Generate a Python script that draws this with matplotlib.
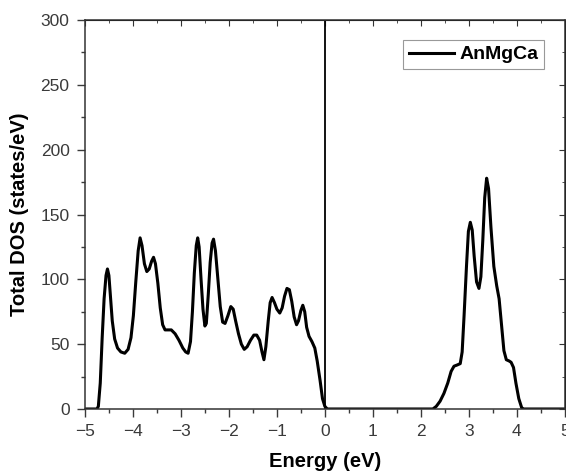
import matplotlib.pyplot as plt
from matplotlib.ticker import MultipleLocator

plt.rcParams["font.family"] = ["Liberation Sans", "DejaVu Sans"]

# ----------------------------
# Data
# ----------------------------
energy = [
    -5.00, -4.75, -4.72, -4.68, -4.64, -4.60, -4.56, -4.53, -4.50, -4.47,
    -4.43, -4.38, -4.32, -4.25, -4.17, -4.10, -4.04, -3.99, -3.94, -3.89,
    -3.85, -3.81, -3.76, -3.71, -3.66, -3.61, -3.57, -3.53, -3.48, -3.43,
    -3.38, -3.33, -3.27, -3.20, -3.12, -3.04, -2.96, -2.90, -2.85, -2.80,
    -2.76, -2.72, -2.68, -2.65, -2.62, -2.58, -2.54, -2.50, -2.47, -2.43,
    -2.39, -2.35, -2.32, -2.28, -2.23, -2.18, -2.13, -2.08, -2.02, -1.96,
    -1.91, -1.86, -1.80, -1.74, -1.68, -1.62, -1.55, -1.48, -1.42, -1.36,
    -1.31, -1.27, -1.23, -1.18, -1.14, -1.10, -1.05, -1.00, -0.94, -0.89,
    -0.84, -0.79, -0.74, -0.69, -0.64, -0.59, -0.55, -0.50, -0.46, -0.42,
    -0.38, -0.33, -0.27, -0.21, -0.16, -0.10, -0.05, 0.00, 0.05, 1.00,
    2.25, 2.32, 2.40, 2.48, 2.56, 2.63, 2.69, 2.76, 2.82, 2.86,
    2.90, 2.95, 2.99, 3.03, 3.07, 3.11, 3.16, 3.21, 3.25, 3.29,
    3.33, 3.37, 3.41, 3.46, 3.52, 3.58, 3.63, 3.68, 3.73, 3.78,
    3.84, 3.88, 3.93, 3.98, 4.04, 4.10, 4.14, 5.00,
]
dos = [
    0, 0, 2, 20, 55, 85, 103, 108, 103, 88,
    68, 54, 47, 44, 43, 46, 55, 72, 98, 122,
    132, 126, 112, 106, 108, 114, 117, 112, 97, 78,
    65, 61, 61, 61, 58, 53, 47, 44, 43, 52,
    75, 105, 126, 132, 125, 100, 77, 64, 66, 88,
    113, 128, 131, 122, 100, 79, 67, 66, 72, 79,
    77, 68, 58, 50, 46, 48, 53, 57, 57, 53,
    44, 38, 48, 68, 82, 86, 82, 77, 74, 78,
    87, 93, 92, 83, 71, 65, 68, 76, 80, 75,
    63, 56, 52, 47, 37, 22, 8, 2, 0, 0,
    0, 2, 6, 12, 20, 29, 33, 34, 35, 44,
    72, 110, 137, 144, 138, 118, 98, 93, 102, 130,
    163, 178, 170, 140, 110, 95, 85, 65, 45, 38,
    37, 36, 32, 20, 8, 1, 0, 0,
]
series_label = "AnMgCa"

# ----------------------------
# Plot
# ----------------------------
fig = plt.figure(figsize=(5.66, 4.72), dpi=100)
ax = fig.add_axes([0.150, 0.1335, 0.848, 0.824])

ax.plot(energy, dos, color="black", linewidth=2.2, label=series_label,
        solid_joinstyle="round")
ax.axvline(0, color="black", linewidth=1.3)

ax.set_xlim(-5, 5)
ax.set_ylim(0, 300)
ax.xaxis.set_major_locator(MultipleLocator(1))
ax.xaxis.set_minor_locator(MultipleLocator(0.5))
ax.yaxis.set_major_locator(MultipleLocator(50))
ax.yaxis.set_minor_locator(MultipleLocator(25))

ax.tick_params(which="both", direction="out", colors="#3a3a3a", labelsize=12.5,
               top=False, right=False)
ax.tick_params(which="major", length=6, width=1, pad=5)
ax.tick_params(which="minor", length=3, width=1)
for s in ax.spines.values():
    s.set_color("#333333")
    s.set_linewidth(1.1)

# inward ticks on top and right like Origin
ax2 = ax.secondary_xaxis("top")
ax2.xaxis.set_major_locator(MultipleLocator(1))
ax2.xaxis.set_minor_locator(MultipleLocator(0.5))
ax2.tick_params(which="both", direction="in", labeltop=False, colors="#333333")
ax2.tick_params(which="major", length=4)
ax2.tick_params(which="minor", length=2)
ax3 = ax.secondary_yaxis("right")
ax3.yaxis.set_major_locator(MultipleLocator(50))
ax3.yaxis.set_minor_locator(MultipleLocator(25))
ax3.tick_params(which="both", direction="in", labelright=False, colors="#333333")
ax3.tick_params(which="major", length=4)
ax3.tick_params(which="minor", length=2)

ax.set_xlabel("Energy (eV)", fontsize=14.5, fontweight="bold", labelpad=9)
ax.set_ylabel("Total DOS (states/eV)", fontsize=14.5, fontweight="bold", labelpad=8)

leg = ax.legend(loc="upper right", bbox_to_anchor=(0.957, 0.949), fancybox=False,
                handlelength=2.3, handletextpad=0.3,
                prop={"weight": "bold", "size": 14}, borderpad=0.3,
                borderaxespad=0, framealpha=1)
leg.get_frame().set_edgecolor("#999999")
leg.get_frame().set_linewidth(0.8)

plt.savefig("out.png", dpi=100)
plt.close()
